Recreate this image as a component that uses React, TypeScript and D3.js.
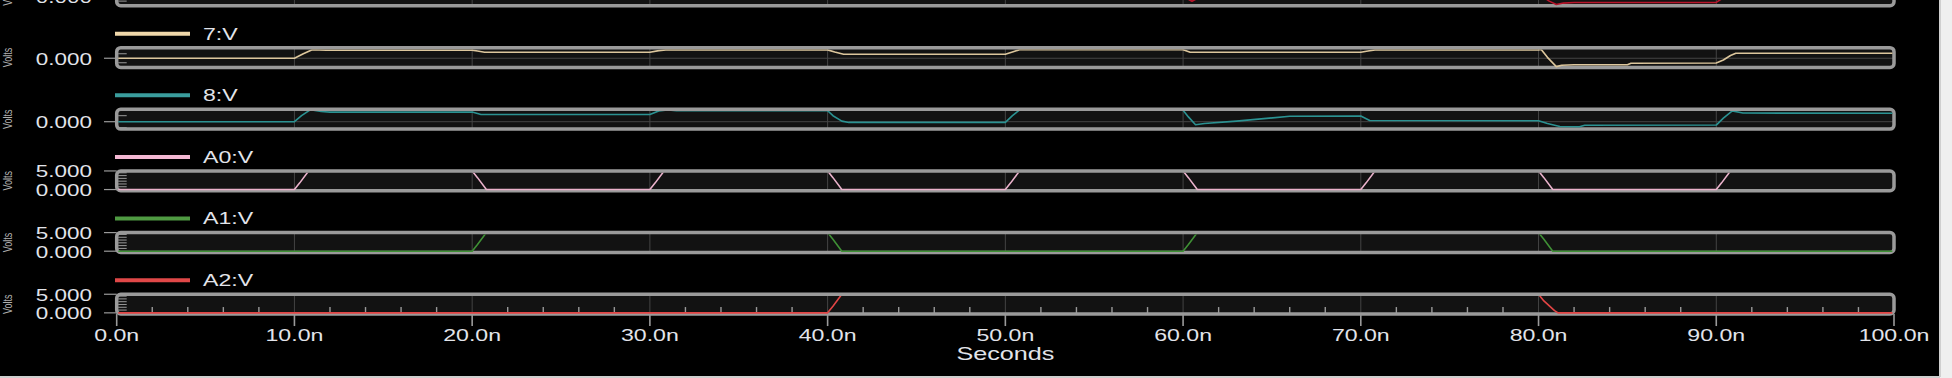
import React from 'react';
import * as d3 from 'd3';

// ---------- data ----------
const TIME_TICKS = [0, 10, 20, 30, 40, 50, 60, 70, 80, 90, 100];
const TIME_TICK_LABELS = ['0.0n', '10.0n', '20.0n', '30.0n', '40.0n', '50.0n', '60.0n', '70.0n', '80.0n', '90.0n', '100.0n'];
const MINOR_TIME_TICKS = [2, 4, 6, 8, 12, 14, 16, 18, 22, 24, 26, 28, 32, 34, 36, 38, 42, 44, 46, 48, 52, 54, 56, 58, 62, 64, 66, 68, 72, 74, 76, 78, 82, 84, 86, 88, 92, 94, 96, 98];
const X_TITLE = 'Seconds';
const Y_TITLE = 'Volts';

const SERIES_NAMES = ['6:V', '7:V', '8:V', 'A0:V', 'A1:V', 'A2:V'];
const SERIES_KIND = ['analog', 'analog', 'analog', 'logic', 'logic', 'logic'];

const ANALOG_LABEL_VALUES = [0];
const ANALOG_LABELS = ['0.000'];
const ANALOG_MINOR = [-0.5, 0.5];
const LOGIC_LABEL_VALUES = [0, 5];
const LOGIC_LABELS = ['0.000', '5.000'];
const LOGIC_MINOR = [0.75, 1.5, 2.25, 3, 3.75, 4.5];

// [time ns, volts]
const sig6: [number, number][] = [[0, 0], [60, 0], [60.3, -0.3], [60.5, -0.52], [60.8, -0.2], [61.2, 0.3], [80, 0.3], [80.6, -0.5], [81, -0.88], [81.4, -0.72], [82, -0.66], [90, -0.64], [90.5, 0], [91, 0.5], [100, 0.5]];
const sig7: [number, number][] = [[0, 0], [10, 0], [10.5, 0.5], [11, 0.95], [11.8, 0.9], [20, 0.9], [20.3, 0.8], [20.7, 0.67], [30, 0.67], [30.5, 0.85], [30.9, 0.93], [40, 0.93], [40.4, 0.7], [40.9, 0.44], [50, 0.44], [50.4, 0.7], [50.8, 0.95], [60, 0.95], [60.4, 0.67], [70, 0.67], [70.4, 0.8], [70.8, 0.93], [80, 0.93], [80.15, 0.98], [80.5, 0.1], [81, -0.93], [81.3, -0.78], [82, -0.72], [85, -0.72], [85.2, -0.56], [90, -0.52], [90.4, -0.2], [90.8, 0.3], [91.1, 0.55], [100, 0.55]];
const sig8: [number, number][] = [[0, 0], [10, 0], [10.4, 0.5], [10.9, 1.0], [11.5, 0.85], [12, 0.8], [20, 0.8], [20.5, 0.6], [30, 0.6], [30.5, 0.9], [31, 0.98], [31.5, 0.92], [40, 0.92], [40.3, 0.5], [40.8, 0.05], [41.2, -0.06], [50, -0.06], [50.4, 0.5], [50.8, 0.98], [51.2, 1.05], [51.6, 0.95], [60, 0.95], [60.3, 0.4], [60.7, -0.25], [61.2, -0.15], [63, 0.05], [66, 0.45], [70, 0.47], [70.5, 0.1], [80, 0.08], [80.5, -0.15], [81.2, -0.4], [82.3, -0.42], [82.6, -0.3], [90, -0.28], [90.4, 0.3], [90.9, 0.9], [91.5, 0.72], [100, 0.7]];
const sigA0: [number, number][] = [[0, 0], [10, 0], [10.3, 1.8], [10.8, 5], [20, 5], [20.3, 3.2], [20.8, 0], [30, 0], [30.3, 1.8], [30.8, 5], [40, 5], [40.3, 3.2], [40.8, 0], [50, 0], [50.3, 1.8], [50.8, 5], [60, 5], [60.3, 3.2], [60.8, 0], [70, 0], [70.3, 1.8], [70.8, 5], [80, 5], [80.3, 3.2], [80.8, 0], [90, 0], [90.3, 1.8], [90.8, 5], [100, 5]];
const sigA1: [number, number][] = [[0, 0], [20, 0], [20.3, 1.8], [20.8, 5], [40, 5], [40.3, 3.2], [40.8, 0], [60, 0], [60.3, 1.8], [60.8, 5], [80, 5], [80.3, 3.2], [80.8, 0], [100, 0]];
const sigA2: [number, number][] = [[0, 0], [40, 0], [40.3, 1.8], [40.8, 5], [80, 5], [80.3, 3.2], [80.9, 0.6], [81.1, 0], [100, 0]];

const SERIES_DATA = [sig6, sig7, sig8, sigA0, sigA1, sigA2];
const LEGEND_COLORS = ['#c0182c', '#f0d8aa', '#3a9d9d', '#f4b8d3', '#4f9a42', '#e04848'];
const TRACE_COLORS = ['#b8142a', '#dcc69c', '#2b9292', '#eab2cb', '#3f9035', '#e24545'];

// ---------- component ----------
export default function App() {
  const W = 1952, H = 378;
  const X0 = 116.7, X1 = 1894;
  const TOP0 = -14, STEP = 61.65, PH = 19.8;
  const SX = 1.36;
  const FONT = "'Liberation Sans', Arial, Helvetica, sans-serif";
  const TXT = '#e2e4ea';
  const GRAY = '#9a9a9a';
  const SCALE_SPEC = [
    { zeroOff: 10.6, k: 9 },
    { zeroOff: 10.6, k: 9 },
    { zeroOff: 12.4, k: 12 },
  ];

  const x = d3.scaleLinear().domain([0, 100]).range([X0, X1]);

  const panels = SERIES_DATA.map((data, i) => {
    const top = TOP0 + i * STEP;
    const bottom = top + PH;
    const logic = SERIES_KIND[i] === 'logic';
    let y: d3.ScaleLinear<number, number>;
    if (logic) {
      y = d3.scaleLinear().domain([0, 5]).range([bottom - 1.2, top]);
    } else {
      const zero = top + SCALE_SPEC[i].zeroOff;
      y = d3.scaleLinear().domain([0, 1]).range([zero, zero - SCALE_SPEC[i].k]);
    }
    const line = d3.line<[number, number]>().x(d => x(d[0])).y(d => y(d[1]));
    return {
      i, top, bottom, logic, y, path: line(data) || '',
      labelVals: logic ? LOGIC_LABEL_VALUES : ANALOG_LABEL_VALUES,
      labels: logic ? LOGIC_LABELS : ANALOG_LABELS,
      minor: logic ? LOGIC_MINOR : ANALOG_MINOR,
    };
  });

  const last = panels[panels.length - 1];

  return (
    <svg width={W} height={H} style={{ position: 'absolute', left: 0, top: 0, display: 'block' }} fontFamily={FONT}>
      <rect x={0} y={0} width={W} height={H} fill="#efefef" />
      <rect x={0} y={0} width={1939} height={376} fill="#000" />
      <line x1={1940} x2={1940} y1={0} y2={377} stroke="#cfcfcf" strokeWidth={2} />
      <line x1={0} x2={1940} y1={377} y2={377} stroke="#cfcfcf" strokeWidth={2} />
      <defs>
        {panels.map(p => (
          <clipPath id={`clip${p.i}`} key={p.i}>
            <rect x={X0 + 1.6} y={p.top + 1.8} width={X1 - X0 - 3.2} height={p.bottom - p.top - 1.3} />
          </clipPath>
        ))}
      </defs>

      {panels.map(p => (
        <g key={p.i}>
          {/* legend */}
          {p.i > 0 && (
            <g>
              <line x1={115} x2={190} y1={p.top - 14} y2={p.top - 14} stroke={LEGEND_COLORS[p.i]} strokeWidth={4} />
              <text transform={`translate(203,${p.top - 14}) scale(${SX},1)`} fontSize={17} fill={TXT} dominantBaseline="central">{SERIES_NAMES[p.i]}</text>
            </g>
          )}
          {/* panel background */}
          <rect x={X0} y={p.top} width={X1 - X0} height={p.bottom - p.top} rx={4} fill="#121212" />
          {/* vertical gridlines */}
          {TIME_TICKS.slice(1, -1).map(t => (
            <line key={t} x1={x(t)} x2={x(t)} y1={p.top} y2={p.bottom} stroke="#444" strokeWidth={1} />
          ))}
          {/* zero line for analog */}
          {!p.logic && (
            <line x1={X0} x2={X1} y1={p.y(0)} y2={p.y(0)} stroke="#444" strokeWidth={1} />
          )}
          {/* inner minor y ticks */}
          {p.minor.map(v => (
            <line key={v} x1={X0 + 1.5} x2={X0 + 10} y1={p.y(v)} y2={p.y(v)} stroke={GRAY} strokeWidth={1} />
          ))}
          {/* bottom minor time ticks on last panel */}
          {p.i === last.i && MINOR_TIME_TICKS.map(t => (
            <line key={t} x1={x(t)} x2={x(t)} y1={p.bottom - 7} y2={p.bottom} stroke={GRAY} strokeWidth={1.4} />
          ))}
          {/* border */}
          <rect x={X0} y={p.top} width={X1 - X0} height={p.bottom - p.top} rx={4} fill="none" stroke={GRAY} strokeWidth={3.5} />
          {/* trace */}
          <path d={p.path} fill="none" stroke={TRACE_COLORS[p.i]} strokeWidth={1.6} clipPath={`url(#clip${p.i})`} strokeLinejoin="round" />
          {/* y labels + outer ticks */}
          {p.labelVals.map((v, j) => (
            <g key={v}>
              <line x1={104} x2={X0} y1={p.y(v)} y2={p.y(v)} stroke={GRAY} strokeWidth={1.2} />
              <text transform={`translate(92,${p.y(v) + 0.5}) scale(${SX},1)`} textAnchor="end" dominantBaseline="central" fontSize={16.5} fill={TXT}>{p.labels[j]}</text>
            </g>
          ))}
          {/* Volts */}
          <text transform={`translate(7,${(p.top + p.bottom) / 2}) rotate(-90) scale(1,${SX})`} textAnchor="middle" dominantBaseline="central" fontSize={9} fill="#b0b0b0">{Y_TITLE}</text>
        </g>
      ))}

      {/* time axis */}
      {TIME_TICKS.map((t, j) => (
        <g key={t}>
          <line x1={x(t)} x2={x(t)} y1={last.bottom} y2={last.bottom + 12} stroke={GRAY} strokeWidth={1.6} />
          <text transform={`translate(${x(t)},335) scale(${SX},1)`} textAnchor="middle" dominantBaseline="central" fontSize={17} fill={TXT}>{TIME_TICK_LABELS[j]}</text>
        </g>
      ))}
      <text transform={`translate(${x(50)},354) scale(${SX},1)`} textAnchor="middle" dominantBaseline="central" fontSize={18.5} fill={TXT}>{X_TITLE}</text>
    </svg>
  );
}
